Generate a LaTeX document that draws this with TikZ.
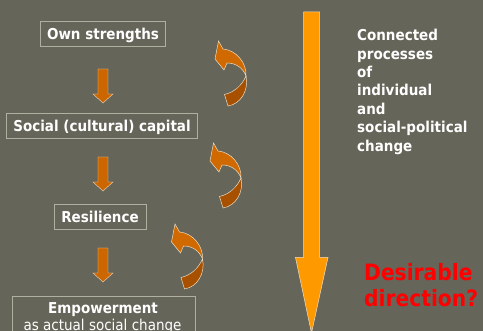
\documentclass[tikz,border=0pt]{standalone}
\usepackage{fontspec}
\setmainfont{DejaVu Sans}[FakeStretch=0.9]
\definecolor{bg}{RGB}{101,101,89}
\definecolor{boxline}{RGB}{176,176,160}
\definecolor{smallor}{RGB}{204,102,0}
\definecolor{curvtop}{RGB}{208,106,0}
\definecolor{curvbot}{RGB}{166,80,0}
\definecolor{bigor}{RGB}{255,153,0}
\definecolor{outl}{RGB}{235,222,200}
\begin{document}
\begin{tikzpicture}[x=1pt,y=-1pt,
  boxst/.style={draw=boxline, line width=0.8pt, text=white, inner sep=0pt,
    font=\bfseries\fontsize{15}{18}\selectfont, text height=12pt, text depth=0pt},
  plaintext/.style={text=white, inner sep=0pt},
  righttext/.style={text=white, inner sep=0pt, anchor=base west,
    font=\bfseries\fontsize{15}{18}\selectfont},
  redtext/.style={text=red, inner sep=0pt, anchor=base west,
    font=\bfseries\fontsize{22.5}{26}\selectfont},
  downarr/.pic={\filldraw[fill=smallor, draw=outl, line width=0.4pt]
    (-5,0) -- (5,0) -- (5,25) -- (10,25) -- (0,34) -- (-10,25) -- (-5,25) -- cycle;},
  curvarr/.pic={
    \filldraw[fill=curvbot, draw=outl, line width=0.5pt]
      (31,17) .. controls (34,31) and (26,45) .. (13,47) -- (9.5,35.5)
      .. controls (20,33) and (27,26) .. (31,17) -- cycle;
    \filldraw[fill=curvtop, draw=outl, line width=0.5pt]
      (0,0) -- (3.5,-18) -- (8,-10) .. controls (21,-9) and (32,4) .. (31,17)
      .. controls (28,9) and (21,4) .. (12,4) -- (9,11) -- cycle;}
]
\useasboundingbox (0,0) rectangle (483,331);
\clip (0,0) rectangle (483,331);
\fill[bg] (0,0) rectangle (483,331);

% boxes
\node[boxst, minimum width=125pt, minimum height=25pt] (b1) at (103,33.5) {Own strengths};
\node[boxst, minimum width=191pt, minimum height=25pt] (b2) at (102,125.5) {Social (cultural) capital};
\node[boxst, minimum width=92pt, minimum height=25pt] (b3) at (100,216.5) {Resilience};
\node[boxst, minimum width=183pt, minimum height=60pt] (b4) at (103.5,326) {};
\node[plaintext, anchor=base, font=\bfseries\fontsize{15}{18}\selectfont] (emp) at (103,314) {Empowerment};
\node[plaintext, anchor=base, font=\fontsize{15}{18}\selectfont] (asa) at (102.5,330.5) {as actual social change};

% small down arrows
\pic at (103,69) {downarr};
\pic at (103,157) {downarr};
\pic at (103,248) {downarr};

% curved arrows
\pic at (215,59) {curvarr};
\pic at (210,161) {curvarr};
\pic at (171.5,242) {curvarr};

% big arrow
\filldraw[fill=bigor, draw=outl, line width=0.5pt]
  (303.5,12) -- (319.5,12) -- (319.5,257.5) -- (328,257.5) -- (311.5,333)
  -- (295.5,257.5) -- (303.5,257.5) -- cycle;

% right text
\foreach \t [count=\i] in {Connected,processes,of,individual,and,social-political,change}
  \node[righttext] (rt\i) at (357,40.7+18.4*\i-18.4) {\t};

\node[redtext] (d1) at (364,280.7) {Desirable};
\node[redtext] (d2) at (364,307) {direction?};
\end{tikzpicture}
\end{document}
